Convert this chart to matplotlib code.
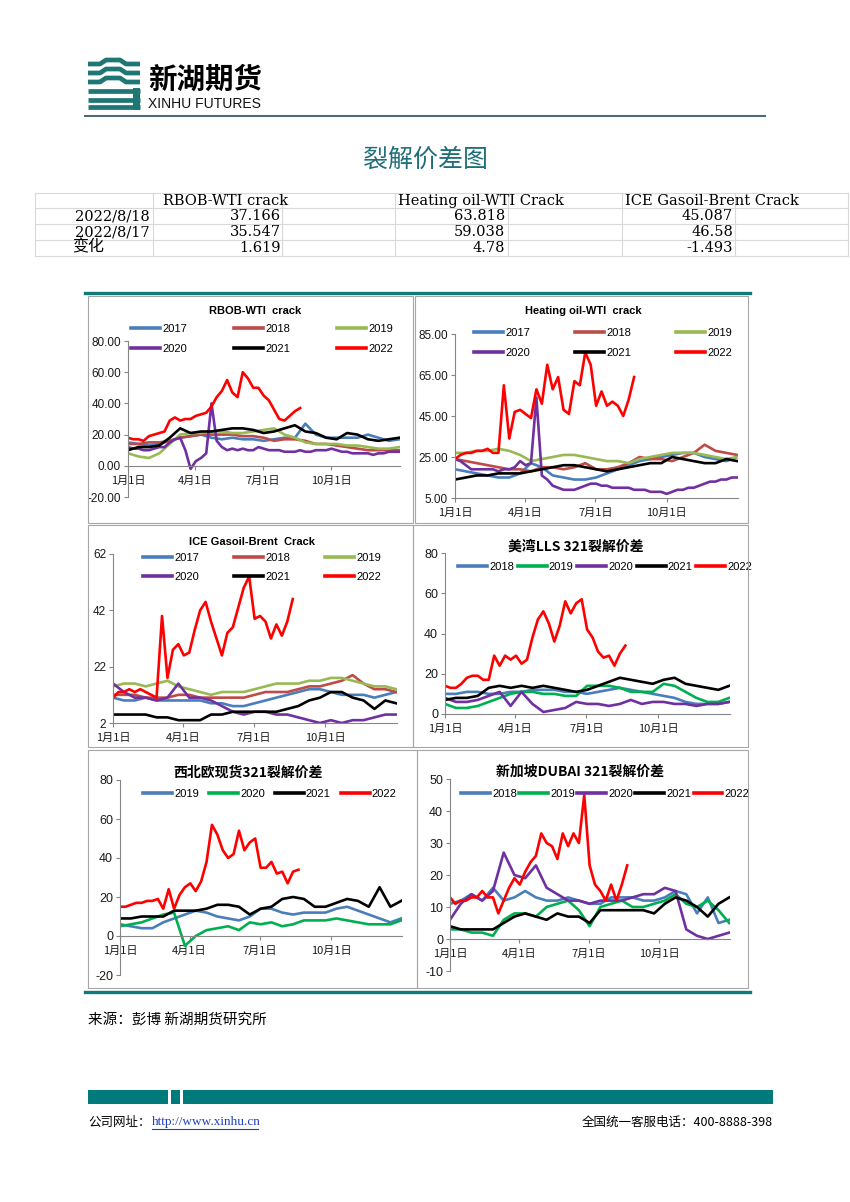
import numpy as np
import matplotlib.pyplot as plt
from matplotlib.patches import Rectangle
from matplotlib.lines import Line2D

plt.rcParams['font.family'] = ['Liberation Sans', 'Noto Sans CJK SC']
plt.rcParams['axes.unicode_minus'] = False

# shared x axis (day of year)
tick_days = [0, 90, 181, 273]
tick_labels = ['1月1日', '4月1日', '7月1日', '10月1日']

# summary table
table_cols = ['RBOB-WTI crack', 'Heating oil-WTI Crack', 'ICE Gasoil-Brent Crack']
table_rows = ['2022/8/18', '2022/8/17', '变化']
table_vals = [['37.166', '63.818', '45.087'],
              ['35.547', '59.038', '46.58'],
              ['1.619', '4.78', '-1.493']]

# RBOB-WTI crack (full years: evenly spread over the year, 2022: weekly)
rbob_years = ['2017', '2018', '2019', '2020', '2021', '2022']
rbob_2017 = [15, 14, 13, 14, 16, 18, 19, 20, 18, 17, 18, 17, 17, 16, 17, 18, 18, 27, 20, 18, 18, 18, 18, 20, 18, 16, 17]
rbob_2018 = [14, 14, 15, 15, 16, 18, 19, 20, 20, 20, 20, 19, 19, 18, 16, 17, 17, 16, 14, 14, 13, 12, 11, 10, 10, 10, 10]
rbob_2019 = [8, 6, 5, 8, 14, 20, 21, 21, 22, 22, 21, 21, 22, 23, 24, 20, 18, 15, 14, 14, 14, 13, 13, 12, 11, 11, 12]
rbob_2020 = [12, 11, 11, 10, 10, 11, 12, 12, 15, 17, 18, 10, -2, 3, 5, 8, 40, 16, 12, 10, 11, 10, 11, 10, 10, 12,
             11, 10, 10, 10, 9, 9, 9, 10, 9, 9, 10, 10, 10, 11, 10, 9, 9, 8, 8, 8, 8, 7, 8, 8, 9, 9, 9]
rbob_2021 = [10, 12, 12, 13, 18, 24, 21, 22, 22, 23, 24, 24, 23, 21, 22, 24, 26, 22, 21, 18, 17, 21, 20, 17, 16, 17, 18]
rbob_2022 = [18, 17, 17, 16, 19, 20, 21, 22, 29, 31, 29, 30, 30, 32, 33, 34, 38, 44, 48, 55, 47, 44, 60, 56, 50, 50,
             45, 42, 36, 30, 29, 32, 35, 37]

# Heating oil-WTI crack
ho_years = ['2017', '2018', '2019', '2020', '2021', '2022']
ho_2017 = [19, 18, 17, 16, 15, 15, 17, 22, 20, 16, 15, 14, 14, 15, 17, 19, 21, 23, 24, 25, 26, 27, 27, 25, 24, 23, 25]
ho_2018 = [24, 23, 22, 21, 20, 19, 19, 18, 20, 20, 19, 20, 22, 19, 19, 20, 22, 25, 24, 24, 23, 25, 27, 31, 28, 27, 26]
ho_2019 = [27, 27, 28, 28, 29, 28, 26, 23, 24, 25, 26, 26, 25, 24, 23, 23, 22, 24, 25, 26, 27, 27, 27, 26, 25, 24, 25]
ho_2020 = [24, 23, 21, 19, 19, 19, 19, 19, 18, 19, 19, 20, 23, 21, 22, 54, 16, 14, 11, 10, 9, 9, 9, 10, 11, 12,
           12, 11, 11, 10, 10, 10, 10, 9, 9, 9, 8, 8, 8, 7, 8, 9, 9, 10, 10, 11, 12, 13, 13, 14, 14, 15, 15]
ho_2021 = [14, 15, 16, 16, 17, 17, 17, 18, 19, 20, 21, 21, 20, 19, 18, 19, 20, 21, 22, 22, 25, 24, 23, 22, 22, 24, 23]
ho_2022 = [24, 26, 27, 27, 28, 28, 29, 27, 27, 60, 34, 47, 48, 46, 44, 58, 51, 70, 58, 64, 48, 46, 62, 60, 76, 70,
           50, 57, 50, 52, 50, 45, 53, 64]

# ICE Gasoil-Brent crack
go_years = ['2017', '2018', '2019', '2020', '2021', '2022']
go_2017 = [11, 10, 10, 11, 10, 10, 10, 10, 10, 9, 9, 8, 8, 9, 10, 11, 12, 13, 14, 14, 13, 12, 12, 12, 11, 12, 13]
go_2018 = [12, 12, 12, 11, 11, 11, 12, 12, 11, 11, 11, 11, 11, 12, 13, 13, 13, 14, 15, 15, 16, 17, 19, 16, 14, 14, 13]
go_2019 = [15, 16, 16, 15, 16, 17, 15, 14, 13, 12, 13, 13, 13, 14, 15, 16, 16, 16, 17, 17, 18, 18, 17, 16, 15, 15, 14]
go_2020 = [16, 13, 11, 11, 10, 11, 16, 11, 11, 10, 8, 6, 5, 6, 6, 5, 5, 4, 3, 2, 3, 2, 3, 3, 4, 5, 5]
go_2021 = [5, 5, 5, 5, 4, 4, 3, 3, 3, 5, 5, 6, 6, 6, 6, 6, 7, 8, 10, 11, 13, 13, 11, 10, 7, 10, 9]
go_2022 = [11, 13, 13, 14, 13, 14, 13, 12, 11, 40, 18, 28, 30, 26, 27, 35, 42, 45, 38, 32, 26, 34, 36, 43, 50, 54,
           39, 40, 38, 32, 37, 33, 38, 46]

# 美湾LLS 321
lls_years = ['2018', '2019', '2020', '2021', '2022']
lls_2018 = [10, 10, 11, 11, 10, 10, 11, 11, 12, 12, 12, 11, 11, 10, 11, 12, 13, 12, 11, 10, 9, 8, 6, 5, 5, 5, 6]
lls_2019 = [5, 3, 3, 4, 6, 8, 10, 11, 11, 10, 10, 9, 9, 14, 14, 14, 13, 11, 11, 11, 15, 14, 11, 8, 6, 6, 8]
lls_2020 = [8, 6, 6, 7, 9, 11, 4, 11, 5, 1, 2, 3, 6, 5, 5, 4, 5, 7, 5, 6, 6, 5, 5, 4, 5, 5, 6]
lls_2021 = [7, 8, 8, 9, 13, 14, 13, 14, 13, 14, 13, 12, 11, 12, 14, 16, 18, 17, 16, 15, 17, 18, 15, 14, 13, 12, 14]
lls_2022 = [14, 13, 13, 15, 18, 19, 19, 17, 17, 29, 24, 29, 27, 29, 25, 27, 38, 47, 51, 45, 36, 44, 56, 50, 55, 57,
            42, 38, 31, 28, 29, 24, 30, 34]

# 西北欧现货321
nwe_years = ['2019', '2020', '2021', '2022']
nwe_2019 = [6, 5, 4, 4, 7, 9, 11, 13, 12, 10, 9, 8, 10, 14, 14, 12, 11, 12, 12, 12, 14, 15, 13, 11, 9, 7, 9]
nwe_2020 = [5, 6, 7, 9, 11, 12, -5, 0, 3, 4, 5, 3, 7, 6, 7, 5, 6, 8, 8, 8, 9, 8, 7, 6, 6, 6, 8]
nwe_2021 = [9, 9, 10, 10, 10, 13, 13, 13, 14, 16, 16, 15, 11, 14, 15, 19, 20, 19, 15, 15, 17, 19, 18, 15, 25, 15, 18]
nwe_2022 = [15, 15, 16, 17, 17, 18, 18, 19, 14, 24, 14, 21, 25, 27, 23, 28, 38, 57, 52, 44, 40, 42, 54, 44, 48, 50,
            35, 35, 38, 32, 33, 27, 33, 34]

# 新加坡DUBAI 321
sg_years = ['2018', '2019', '2020', '2021', '2022']
sg_2018 = [11, 12, 14, 12, 16, 12, 13, 15, 13, 12, 12, 13, 12, 11, 11, 13, 13, 13, 12, 12, 13, 15, 14, 8, 13, 5, 6]
sg_2019 = [3, 3, 2, 2, 1, 6, 8, 8, 7, 10, 11, 12, 9, 4, 10, 11, 12, 10, 10, 11, 12, 14, 11, 10, 12, 9, 5]
sg_2020 = [6, 11, 14, 12, 15, 27, 20, 19, 23, 16, 14, 12, 12, 11, 12, 12, 12, 13, 14, 14, 16, 15, 3, 1, 0, 1, 2]
sg_2021 = [4, 3, 3, 3, 3, 5, 7, 8, 7, 6, 8, 7, 7, 5, 9, 9, 9, 9, 9, 8, 11, 13, 12, 10, 7, 11, 13]
sg_2022 = [13, 11, 12, 12, 13, 13, 15, 13, 13, 8, 12, 16, 19, 17, 21, 24, 26, 33, 30, 29, 25, 33, 29, 33, 30, 45,
           23, 17, 15, 12, 17, 12, 17, 23]

c_blue = '#4A7EBB'
c_brown = '#BE4B48'
c_olive = '#98B954'
c_purple = '#7030A0'
c_green = '#00B050'
c_red = '#FF0000'
teal = '#0E7A7A'

W, H = 850, 1202
fig = plt.figure(figsize=(W / 100, H / 100), dpi=100)


def rect(x0, y0, x1, y1):
    return [x0 / W, 1 - y1 / H, (x1 - x0) / W, (y1 - y0) / H]


def line(xs, ys, **kw):
    fig.add_artist(Line2D([x / W for x in xs], [1 - y / H for y in ys], **kw))


def box(x0, y0, x1, y1, **kw):
    fig.add_artist(Rectangle((x0 / W, 1 - y1 / H), (x1 - x0) / W, (y1 - y0) / H,
                             transform=fig.transFigure, **kw))


def text(x, y, s, **kw):
    fig.text(x / W, 1 - y / H, s, **kw)


# ---- header / logo
for i, y in enumerate([64, 73, 82, 91, 100, 107]):
    bump = 4 if i < 3 else 0
    line([88, 100, 106, 120, 126, 140], [y, y, y - bump, y - bump, y, y], color='#1F7775', lw=3.4,
         solid_capstyle='butt')
box(133, 88, 140, 110, color='#1F7775', lw=0)
text(148, 80, '新湖期货', fontsize=20.5, fontweight='bold', family=['Noto Sans CJK SC'], va='center')
text(148, 104, 'XINHU FUTURES', fontsize=10, va='center', color='#111111')
line([85, 765], [116, 116], color='#4D6B73', lw=1.5)

text(425, 160, '裂解价差图', fontsize=18, family=['Noto Sans CJK SC'], color='#1F6E78',
     ha='center', va='center')

# ---- table
tfont = dict(family=['DejaVu Serif', 'Noto Sans CJK SC'], fontsize=10.5, va='center')
for y in [193, 208, 224, 240, 256]:
    line([35, 848], [y, y], color='#D9D9D9', lw=0.8)
for x in [35, 153, 282, 395, 508, 622, 735, 848]:
    line([x, x], [193, 256], color='#D9D9D9', lw=0.8)
for x, s in zip([163, 398, 625], table_cols):
    text(x, 201, s, **tfont)
for r, (lab, vals) in enumerate(zip(table_rows, table_vals)):
    y = 216 + 16 * r
    if r < 2:
        text(150, y, lab, ha='right', **tfont)
    else:
        text(72, y - 1, lab, ha='left', **dict(tfont, fontsize=11.5))
    for x, v in zip([281, 505, 733], vals):
        text(x, y, v, ha='right', **tfont)

# ---- chart block
line([85, 750], [293, 293], color=teal, lw=2.4)
line([85, 750], [992, 992], color=teal, lw=2.4)


def panel(frame, area, years, data, colors, ylim, ystep, yfmt, ysize, title, txy, tkw, leg, zero=False):
    box(*frame, fill=False, ec='#A6A6A6', lw=0.8)
    ax = fig.add_axes(rect(*area))
    ax.patch.set_alpha(0)
    for s in ['top', 'right']:
        ax.spines[s].set_visible(False)
    if zero:
        ax.spines['bottom'].set_position(('data', 0))
    lines = []
    for yr, vals, c in zip(years, data, colors):
        if yr == '2022':
            xs = np.arange(len(vals)) * 7
        else:
            xs = np.linspace(0, 364, len(vals))
        lines += ax.plot(xs, vals, color=c, lw=1.9, label=yr, solid_joinstyle='round')
    ax.set_xlim(0, 365)
    ax.set_ylim(*ylim)
    ax.set_yticks(np.arange(ylim[0], ylim[1] + 0.01, ystep))
    ax.yaxis.set_major_formatter(yfmt)
    ax.set_xticks(tick_days, tick_labels)
    for s in ['left', 'bottom']:
        ax.spines[s].set_color('#868686')
        ax.spines[s].set_linewidth(0.8)
    ax.tick_params(direction='out', length=3, width=0.8, color='#868686', pad=2, labelcolor='#1A1A1A')
    ax.tick_params(axis='x', labelsize=8, pad=4, labelfontfamily='Noto Sans CJK SC')
    ax.tick_params(axis='y', labelsize=ysize)
    text(txy[0], txy[1], title, ha='center', va='center', **tkw)

    lx, ly, ncol, cs, ls = leg
    if len(lines) == 6:
        lines = [lines[i] for i in [0, 3, 1, 4, 2, 5]]
    lg = ax.legend(lines, [h.get_label() for h in lines], ncol=ncol, loc='upper left',
                   bbox_to_anchor=(lx / W, 1 - ly / H), bbox_transform=fig.transFigure,
                   frameon=False, fontsize=8, handlelength=2.6, handletextpad=0.2,
                   columnspacing=cs, labelspacing=ls, borderpad=0, borderaxespad=0)
    for h in lg.get_lines():
        h.set_linewidth(2.6)
    return ax


en_title = dict(fontsize=8, fontweight='bold')
cn_title = dict(fontsize=10, fontweight='bold', family=['Noto Sans CJK SC'])

panel((88, 296, 413, 523), (128, 341, 400, 497), rbob_years,
      [rbob_2017, rbob_2018, rbob_2019, rbob_2020, rbob_2021, rbob_2022],
      [c_blue, c_brown, c_olive, c_purple, 'black', c_red],
      (-20, 80), 20, '{x:.2f}', 8.5, 'RBOB-WTI  crack', (255, 311), en_title,
      (131, 324, 3, 4.25, 0.9), zero=True)

panel((415, 296, 748, 523), (455, 334, 738, 498), ho_years,
      [ho_2017, ho_2018, ho_2019, ho_2020, ho_2021, ho_2022],
      [c_blue, c_brown, c_olive, c_purple, 'black', c_red],
      (5, 85), 20, '{x:.2f}', 8.5, 'Heating oil-WTI  crack', (583, 311), en_title,
      (474, 328, 3, 4.05, 0.9))

panel((88, 525, 413, 747), (113, 554, 397, 723), go_years,
      [go_2017, go_2018, go_2019, go_2020, go_2021, go_2022],
      [c_blue, c_brown, c_olive, c_purple, 'black', c_red],
      (2, 62), 20, '{x:.0f}', 8.5, 'ICE Gasoil-Brent  Crack', (252, 542), en_title,
      (143, 553, 3, 3.15, 0.8))

panel((413, 525, 748, 747), (445, 553, 730, 714), lls_years,
      [lls_2018, lls_2019, lls_2020, lls_2021, lls_2022],
      [c_blue, c_green, c_purple, 'black', c_red],
      (0, 80), 20, '{x:.0f}', 9, '美湾LLS 321裂解价差', (576, 547), cn_title,
      (458, 562, 5, 0.33, 0.9))

panel((88, 750, 417, 988), (120, 780, 402, 975), nwe_years,
      [nwe_2019, nwe_2020, nwe_2021, nwe_2022],
      [c_blue, c_green, 'black', c_red],
      (-20, 80), 20, '{x:.0f}', 9, '西北欧现货321裂解价差', (248, 773), cn_title,
      (143, 789, 4, 0.9, 0.9), zero=True)

panel((417, 750, 748, 988), (450, 779, 730, 971), sg_years,
      [sg_2018, sg_2019, sg_2020, sg_2021, sg_2022],
      [c_blue, c_green, c_purple, 'black', c_red],
      (-10, 50), 10, '{x:.0f}', 9, '新加坡DUBAI 321裂解价差', (580, 772), cn_title,
      (461, 789, 5, 0.2, 0.9), zero=True)

# ---- footer
ffont = dict(family=['Noto Sans CJK SC'], va='center')
text(88, 1021, '来源：彭博 新湖期货研究所', fontsize=10.5, **ffont)
box(88, 1090, 168, 1104, color='#007A7A', lw=0)
box(171, 1090, 180, 1104, color='#007A7A', lw=0)
box(183, 1090, 773, 1104, color='#007A7A', lw=0)
text(88, 1122, '公司网址：', fontsize=9, **ffont)
text(152, 1122, 'http://www.xinhu.cn', fontsize=9.5, color='#1F3FBF', family=['Liberation Serif'],
     va='center')
line([152, 258], [1129, 1129], color='#1F3FBF', lw=0.8)
text(773, 1122, '全国统一客服电话：400-8888-398', fontsize=9, ha='right', **ffont)

fig.savefig('out.png', dpi=100)
